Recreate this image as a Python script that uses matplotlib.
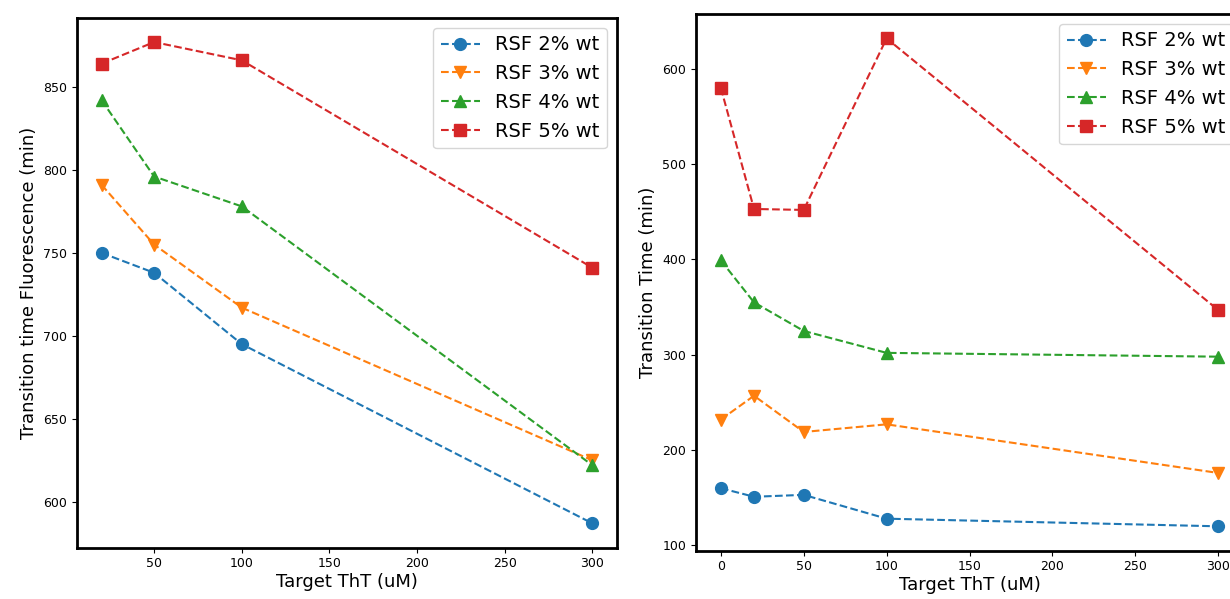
import matplotlib
matplotlib.use("Agg")
import matplotlib.pyplot as plt

# Left panel data
x_left = [20, 50, 100, 300]
left_rsf2 = [750, 738, 695, 587]
left_rsf3 = [791, 755, 717, 625]
left_rsf4 = [842, 796, 778, 622]
left_rsf5 = [864, 877, 866, 741]

# Right panel data
x_right = [0, 20, 50, 100, 300]
right_rsf2 = [160, 151, 153, 128, 120]
right_rsf3 = [232, 257, 219, 227, 176]
right_rsf4 = [399, 355, 325, 302, 298]
right_rsf5 = [580, 453, 452, 632, 347]

labels = ["RSF 2% wt", "RSF 3% wt", "RSF 4% wt", "RSF 5% wt"]
markers = ["o", "v", "^", "s"]
colors = ["#1f77b4", "#ff7f0e", "#2ca02c", "#d62728"]

W, H = 1230, 599
fig = plt.figure(figsize=(W / 100, H / 100), dpi=100)

ax1 = fig.add_axes([77 / W, 1 - 547.5 / H, 540 / W, 529.5 / H])
ax2 = fig.add_axes([696 / W, 1 - 550.7 / H, 547 / W, 536.7 / H])

def draw(ax, x, series, ylabel):
    for ys, lab, m, c in zip(series, labels, markers, colors):
        ax.plot(x, ys, linestyle="--", marker=m, color=c, label=lab,
                markersize=8.5, linewidth=1.5)
    for sp in ax.spines.values():
        sp.set_linewidth(2)
    ax.tick_params(labelsize=9)
    ax.set_xlabel("Target ThT (uM)", fontsize=13, labelpad=2)
    ax.set_ylabel(ylabel, fontsize=13)
    ax.legend(loc="upper right", fontsize=14)

draw(ax1, x_left, [left_rsf2, left_rsf3, left_rsf4, left_rsf5],
     "Transition time Fluorescence (min)")
ax1.set_xticks([50, 100, 150, 200, 250, 300])
ax1.set_yticks([600, 650, 700, 750, 800, 850])

draw(ax2, x_right, [right_rsf2, right_rsf3, right_rsf4, right_rsf5],
     "Transition Time (min)")
ax2.set_xticks([0, 50, 100, 150, 200, 250, 300])
ax2.set_yticks([100, 200, 300, 400, 500, 600])

fig.savefig("out.png", dpi=100)
